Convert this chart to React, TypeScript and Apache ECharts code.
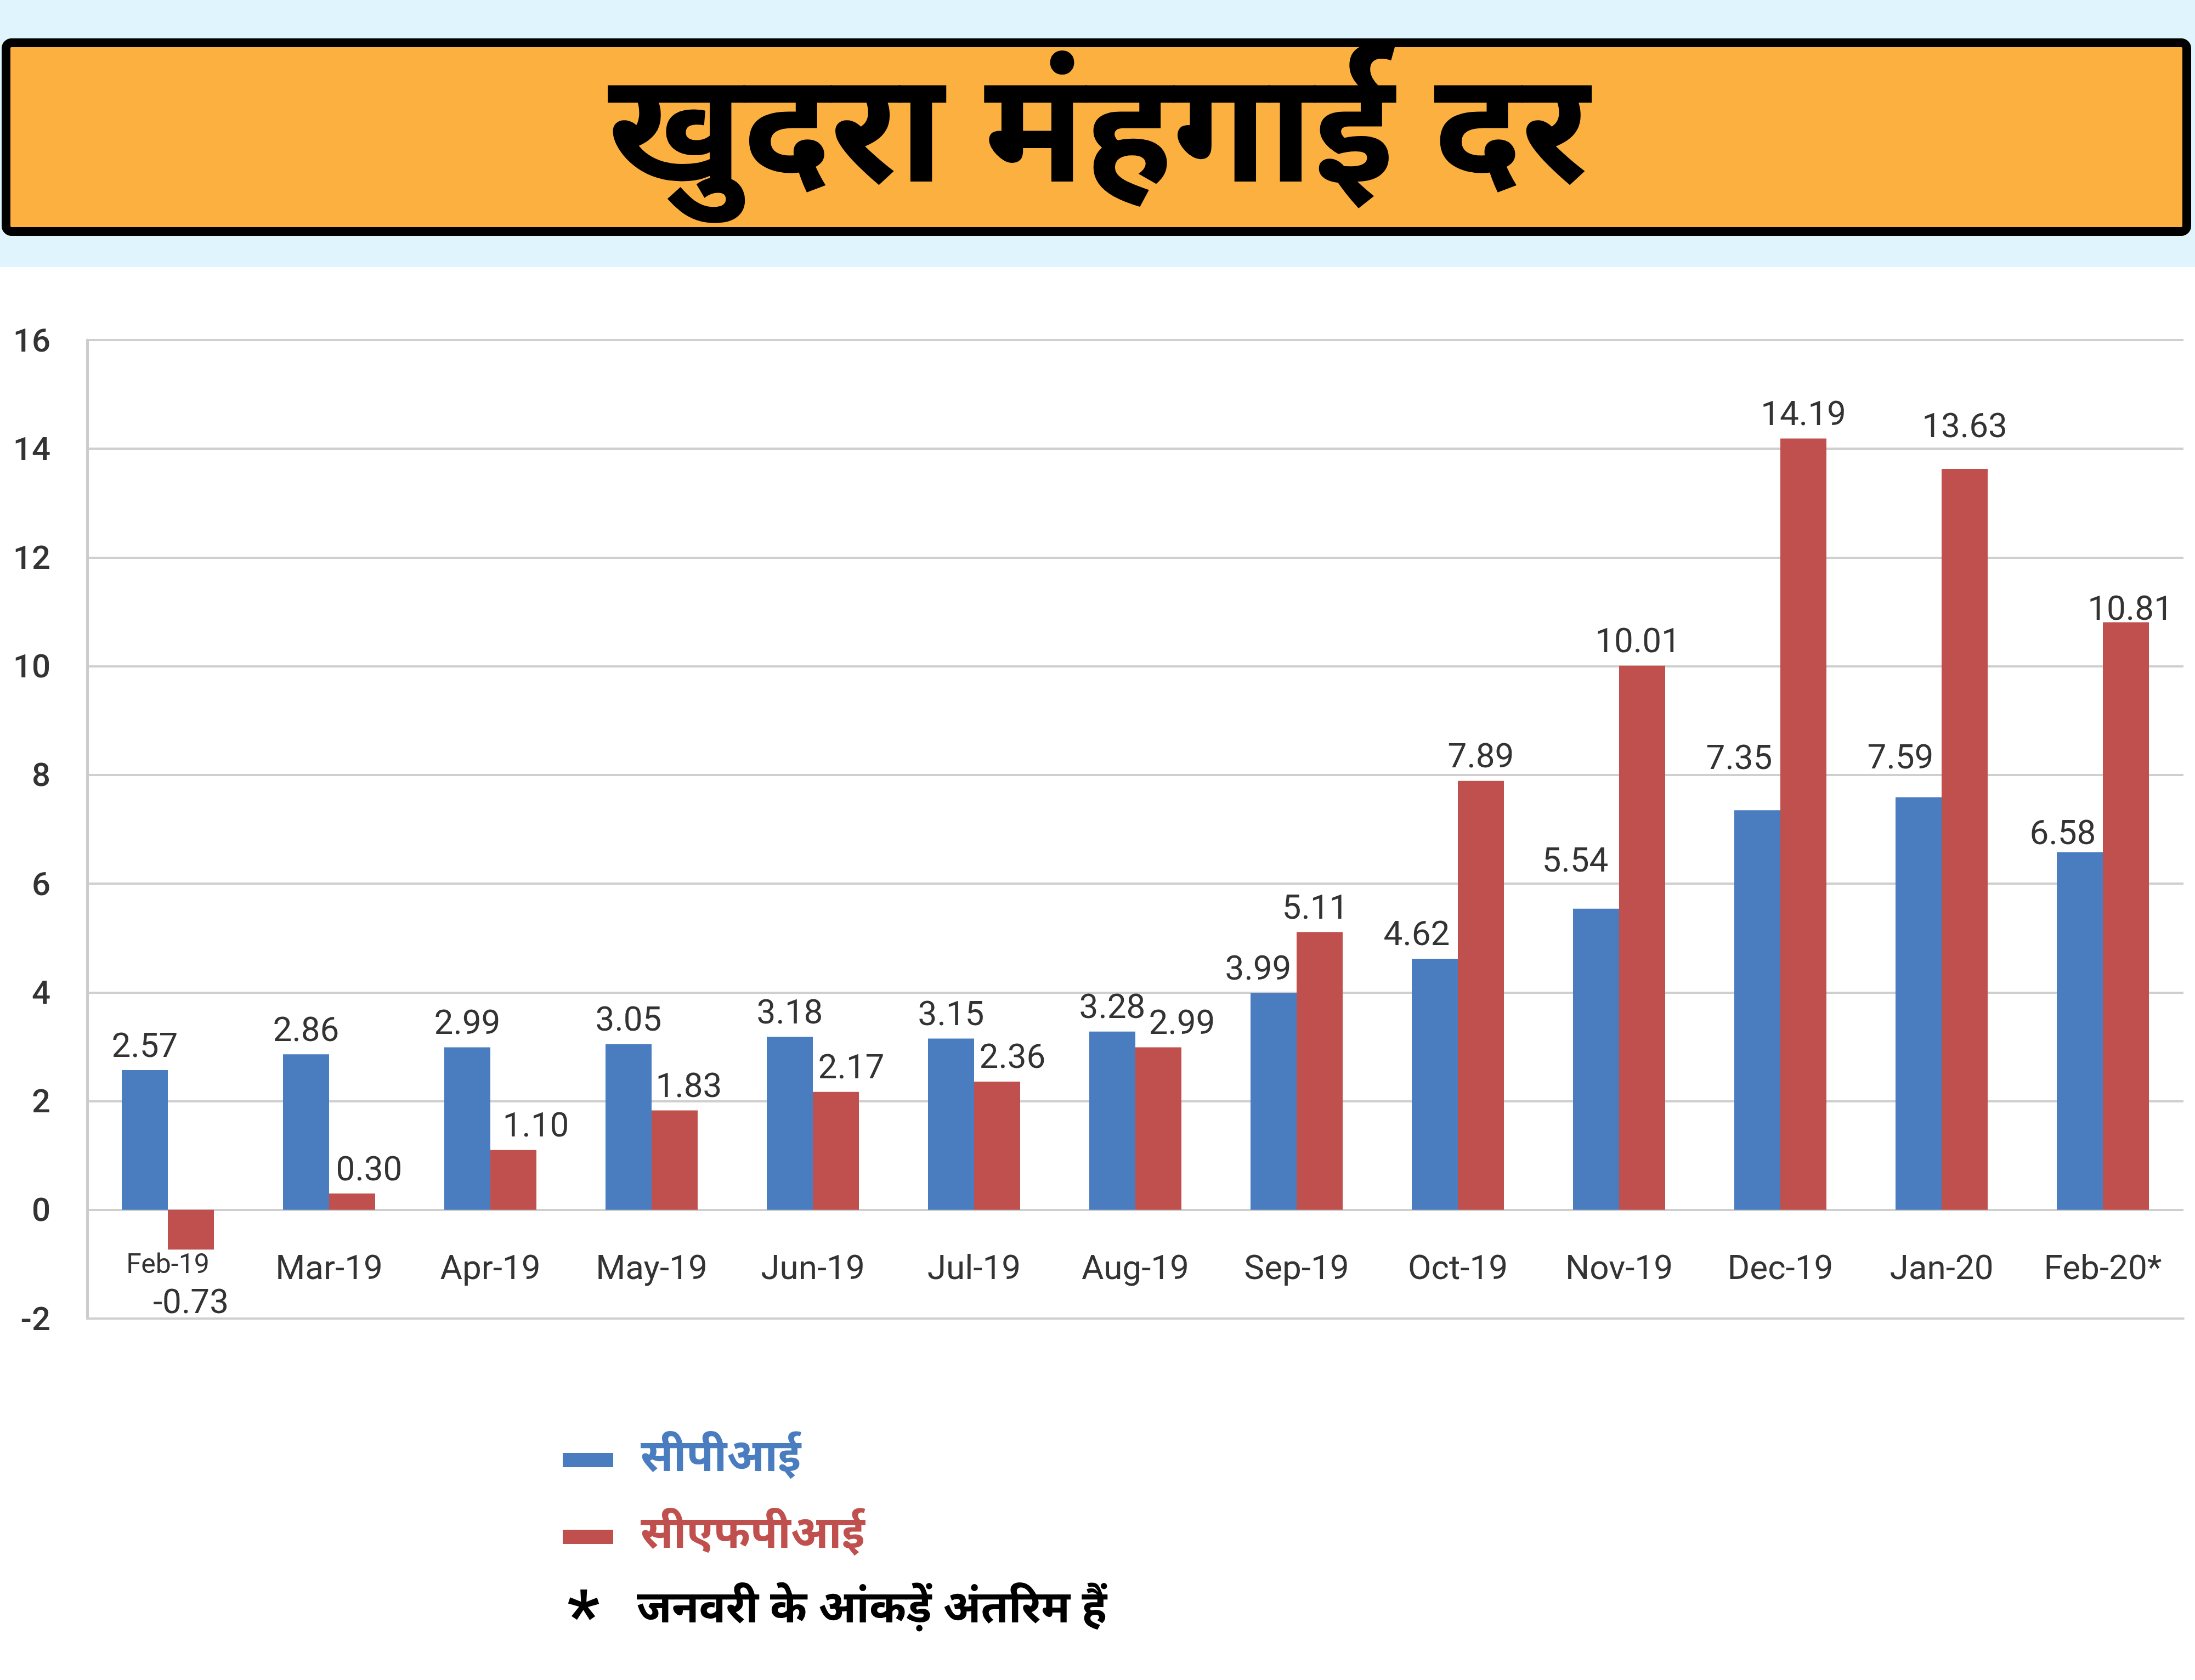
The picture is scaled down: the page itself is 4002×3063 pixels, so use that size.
import React, { useEffect, useRef } from "react";
import * as echarts from "echarts";

const categories = ["Feb-19","Mar-19","Apr-19","May-19","Jun-19","Jul-19","Aug-19","Sep-19","Oct-19","Nov-19","Dec-19","Jan-20","Feb-20*"];
const cpi = [2.57, 2.86, 2.99, 3.05, 3.18, 3.15, 3.28, 3.99, 4.62, 5.54, 7.35, 7.59, 6.58];
const cfpi = [-0.73, 0.30, 1.10, 1.83, 2.17, 2.36, 2.99, 5.11, 7.89, 10.01, 14.19, 13.63, 10.81];
const yTicks = [-2, 0, 2, 4, 6, 8, 10, 12, 14, 16];
const titleText = "खुदरा मंहगाई दर";
const seriesNames = ["सीपीआई", "सीएफपीआई"];
const noteText = "जनवरी के आंकड़ें अंतरिम हैं";

// label nudges (layout only, px)
const cpiLabelDx = [0,0,0,0,0,0,0,-28,-33,-38,-33,-33,-31];
const cpiLabelDy = [0,0,0,0,0,0,0,0,0,-43,-51,-28,10];
const cfpiLabelDx = [0,31,41,26,28,28,43,-8,0,-8,0,0,8];
const cfpiLabelDy = [48,0,0,0,0,0,0,0,0,0,0,-33,20];

const DEV = "'Noto Sans Devanagari', 'Lohit Devanagari', 'Noto Serif Devanagari', 'Mukta', 'Hind', sans-serif";
const NUM = "Roboto, 'Noto Sans', sans-serif";
const BLUE = "#4A7CC0";
const RED = "#C0504D";

export default function App() {
  const ref = useRef<HTMLDivElement>(null);
  useEffect(() => {
    document.body.style.margin = "0";
    const chart = echarts.init(ref.current!, null, { renderer: "svg" });
    const fmt = (v: number) => v.toFixed(2);
    chart.setOption({
      animation: false,
      backgroundColor: "#ffffff",
      grid: { left: 159, top: 620, width: 13 * 294, height: 1784, containLabel: false },
      legend: {
        orient: "vertical",
        left: 1021,
        top: 2607,
        itemWidth: 92,
        itemHeight: 26,
        itemGap: 40,
        icon: "rect",
        selectedMode: false,
        formatter: (n: string) => "{a|" + n + "}",
        textStyle: { fontFamily: DEV, fontWeight: "bold", fontSize: 81, lineHeight: 100,
          rich: { a: { fontFamily: DEV, fontWeight: "bold", fontSize: 81, lineHeight: 100, padding: [0, 0, 0, 45] } } },
        data: [
          { name: seriesNames[0], textStyle: { color: BLUE } },
          { name: seriesNames[1], textStyle: { color: RED } },
        ],
      },
      xAxis: {
        type: "category",
        data: categories.map((c, i) => i === 0 ? { value: c, textStyle: { fontSize: 50 } } : c),
        axisLine: { show: true, onZero: false, lineStyle: { color: "#cfcfcf", width: 4 } },
        axisTick: { show: false },
        axisLabel: { margin: -125, fontFamily: NUM, fontSize: 62, color: "#333", interval: 0 },
      },
      yAxis: {
        type: "value",
        min: yTicks[0],
        max: yTicks[yTicks.length - 1],
        interval: 2,
        axisLine: { show: true, lineStyle: { color: "#cccccc", width: 5 } },
        axisTick: { show: false },
        splitLine: { lineStyle: { color: "#cfcfcf", width: 4 } },
        axisLabel: { margin: 67, fontFamily: NUM, fontWeight: 500, fontSize: 60, color: "#333" },
      },
      series: [
        {
          name: seriesNames[0],
          type: "bar",
          barWidth: 84,
          barGap: "0%",
          itemStyle: { color: BLUE },
          data: cpi.map((v, i) => ({
            value: v,
            label: { offset: [cpiLabelDx[i], cpiLabelDy[i]] },
          })),
          label: { show: true, position: "top", distance: 15, fontFamily: NUM, fontSize: 62, color: "#333",
            formatter: (p: any) => fmt(p.value) },
        },
        {
          name: seriesNames[1],
          type: "bar",
          barWidth: 84,
          barGap: "0%",
          itemStyle: { color: RED },
          data: cfpi.map((v, i) => ({
            value: v,
            label: { offset: [cfpiLabelDx[i], cfpiLabelDy[i]], position: v < 0 ? "bottom" : "top" },
          })),
          label: { show: true, position: "top", distance: 15, fontFamily: NUM, fontSize: 62, color: "#333",
            formatter: (p: any) => fmt(p.value) },
        },
      ],
      graphic: [
        { type: "rect", left: 0, top: 0, z: -10, shape: { width: 4002, height: 487 }, style: { fill: "#DFF4FC" } },
        { type: "rect", x: 11, y: 78, shape: { width: 3976, height: 344, r: 10 }, style: { fill: "#FBB040", stroke: "#000", lineWidth: 16 } },
        { type: "text", x: 2003, y: 262, style: { text: titleText, fontFamily: DEV, fontWeight: "bold", fontSize: 282, fill: "#000", align: "center", verticalAlign: "middle" } },
        { type: "text", x: 1034, y: 2945, style: { text: "*", fontFamily: NUM, fontWeight: "bold", fontSize: 130, fill: "#000", align: "left", verticalAlign: "middle" } },
        { type: "text", x: 1161, y: 2938, style: { text: noteText, fontFamily: DEV, fontWeight: "bold", fontSize: 81, fill: "#000", align: "left", verticalAlign: "middle" } },
      ],
    });
    return () => chart.dispose();
  }, []);
  return <div ref={ref} style={{ width: 4002, height: 3063 }} />;
}
